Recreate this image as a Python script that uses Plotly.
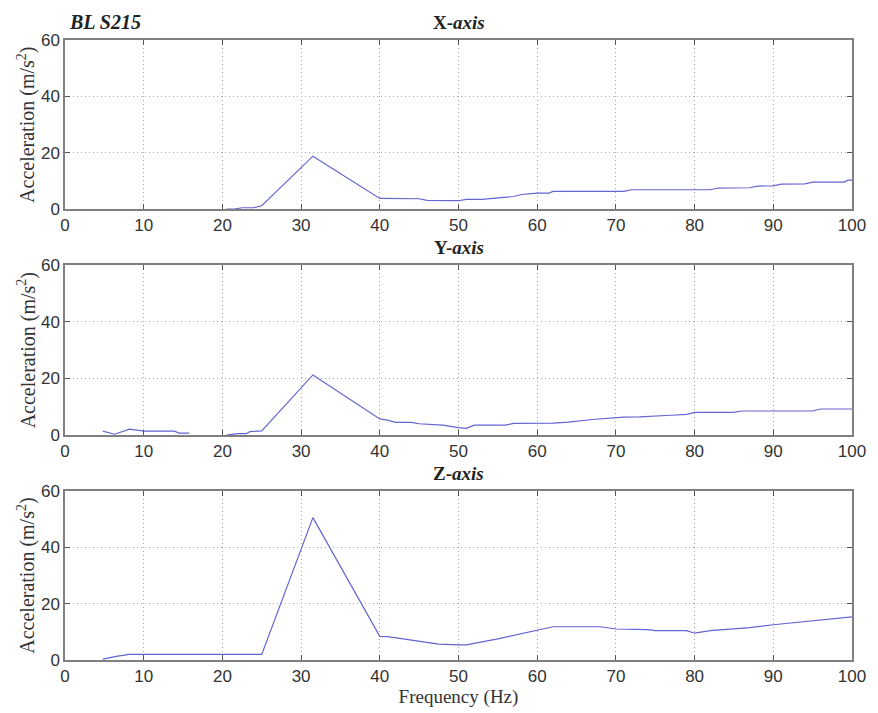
import plotly.graph_objects as go

# ---- data ----
freq_x = [20.5, 21.5, 22.5, 24, 25, 31.5, 40, 45, 46, 50, 51, 53, 55, 57, 58, 60, 61.5, 62, 71, 72, 82, 83, 87, 88, 90, 91, 94, 95, 99, 99.5, 100]
acc_x = [0, 0, 0.5, 0.5, 1.2, 18.8, 3.8, 3.7, 3.1, 3.0, 3.5, 3.5, 4.0, 4.5, 5.2, 5.7, 5.7, 6.3, 6.3, 6.9, 6.9, 7.5, 7.6, 8.2, 8.3, 8.9, 9.0, 9.6, 9.6, 10.3, 10.3]

freq_y = [4.8, 6.3, 8.2, 9.4, 10, 13.9, 14.5, 15.8, None, 20.5, 22, 23, 23.5, 25, 31.5, 40, 41, 42, 44, 45, 48, 50, 51, 52, 56, 57, 62, 64, 67, 71, 73, 77, 79, 80, 85, 86, 95, 96, 100]
acc_y = [1.4, 0.3, 2.1, 1.8, 1.4, 1.4, 0.7, 0.7, None, 0, 0.5, 0.5, 1.2, 1.5, 21.2, 5.7, 5.3, 4.5, 4.5, 4.0, 3.5, 2.6, 2.4, 3.5, 3.5, 4.1, 4.2, 4.6, 5.5, 6.3, 6.4, 7.0, 7.3, 8.0, 8.0, 8.5, 8.5, 9.2, 9.2]

freq_z = [4.8, 6.5, 8.2, 25, 31.5, 40, 41, 45, 47.5, 50, 51, 55, 60, 62, 68, 69, 70, 74, 75, 79, 80, 82, 87, 90, 95, 100]
acc_z = [0.3, 1.3, 2, 2, 50.5, 8.4, 8.3, 6.5, 5.6, 5.4, 5.4, 7.5, 10.4, 11.8, 11.8, 11.3, 11.0, 10.8, 10.4, 10.4, 9.5, 10.4, 11.5, 12.5, 14, 15.3]

panel_titles = ["<b>X-<i>axis</i></b>", "<b>Y-<i>axis</i></b>", "<b>Z-<i>axis</i></b>"]
x_ticks = [0, 10, 20, 30, 40, 50, 60, 70, 80, 90, 100]
y_ticks = [0, 20, 40, 60]
y_title = "Acceleration (m/s<sup>2</sup>)"
x_title = "Frequency (Hz)"
main_label = "<b><i>BL S215</i></b>"

series = [(freq_x, acc_x), (freq_y, acc_y), (freq_z, acc_z)]

# ---- layout geometry (body margin removed via post_script) ----
W, H = 878, 713
L, R, T, B = 65, 19, 40, 50
plot_h = H - T - B
# panel pixel extents (top, bottom) in page coords
panels_px = [(40, 210), (266, 437), (493, 663)]
domains = [[(H - B - b) / plot_h, (H - B - t) / plot_h] for (t, b) in panels_px]

LINE = "#6464d2"
SERIF = "Liberation Serif"
SANS = "Liberation Sans"
GRID = "#a8a8a8"

fig = go.Figure()
for i, (fx, fy) in enumerate(series):
    n = "" if i == 0 else str(i + 1)
    fig.add_trace(go.Scatter(x=fx, y=fy, mode="lines", line=dict(color=LINE, width=1.2),
                             xaxis="x" + n, yaxis="y" + n, showlegend=False, connectgaps=False))
    ax = dict(range=[0, 100], tickvals=x_ticks, showgrid=True, gridcolor=GRID, griddash="1px,3px",
              gridwidth=1, showline=True, linecolor="#808080", linewidth=1.5, mirror="ticks",
              ticks="inside", ticklen=5, tickcolor="#555", zeroline=False,
              tickfont=dict(family=SANS, size=17, color="#333"), anchor="y" + n,
              domain=[0, 1], fixedrange=True)
    ay = dict(range=[0, 60], tickvals=y_ticks, showgrid=True, gridcolor=GRID, griddash="1px,3px",
              gridwidth=1, showline=True, linecolor="#808080", linewidth=1.5, mirror="ticks",
              ticks="inside", ticklen=5, tickcolor="#555", zeroline=False,
              tickfont=dict(family=SANS, size=17, color="#333"), anchor="x" + n,
              domain=domains[i], fixedrange=True)
    if i == 2:
        ax["title"] = dict(text=x_title, font=dict(family=SERIF, size=19, color="#333"), standoff=2)
    fig.update_layout(**{"xaxis" + n: ax, "yaxis" + n: ay})
    fig.add_annotation(text=panel_titles[i], xref="x" + n + " domain", yref="y" + n + " domain",
                       x=0.5, y=1, xanchor="center", yanchor="bottom", yshift=5, showarrow=False,
                       font=dict(family=SERIF, size=19, color="#222"))
    fig.add_annotation(text=y_title, xref="paper", yref="y" + n + " domain",
                       x=(26 - L) / (W - L - R), y=0.5, xanchor="center", yanchor="middle",
                       textangle=-90, showarrow=False,
                       font=dict(family=SERIF, size=20, color="#333"))

fig.add_annotation(text=main_label, xref="paper", yref="y domain", x=0, y=1, xanchor="left",
                   yanchor="bottom", xshift=2, yshift=5, showarrow=False,
                   font=dict(family=SERIF, size=20, color="#222"))

fig.update_layout(width=W, height=H, margin=dict(l=L, r=R, t=T, b=B),
                  paper_bgcolor="white", plot_bgcolor="white", showlegend=False)

fig.write_html("out.html", config={"displayModeBar": False},
               post_script="document.body.style.margin='0';document.body.style.overflow='hidden';")
